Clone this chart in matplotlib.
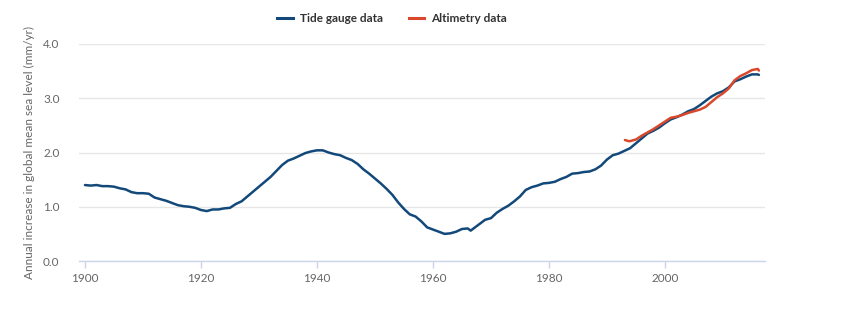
import matplotlib.pyplot as plt
from matplotlib.lines import Line2D

plt.rcParams['font.family'] = ['Lato', 'DejaVu Sans']

# annual increase in global mean sea level (mm/yr)
tide_years = [1900, 1901, 1902, 1903, 1904, 1905, 1906, 1907, 1908, 1909,
              1910, 1911, 1912, 1913, 1914, 1915, 1916, 1917, 1918, 1919,
              1920, 1921, 1922, 1923, 1924, 1925, 1926, 1927, 1928, 1929,
              1930, 1931, 1932, 1933, 1934, 1935, 1936, 1937, 1938, 1939,
              1940, 1941, 1942, 1943, 1944, 1945, 1946, 1947, 1948, 1949,
              1950, 1951, 1952, 1953, 1954, 1955, 1956, 1957, 1958, 1959,
              1960, 1961, 1962, 1963, 1964, 1965, 1966, 1966.5, 1968, 1969,
              1970, 1971, 1972, 1973, 1974, 1975, 1976, 1977, 1978, 1979,
              1980, 1981, 1982, 1983, 1984, 1985, 1986, 1987, 1988, 1989,
              1990, 1991, 1992, 1993, 1994, 1995, 1996, 1997, 1998, 1999,
              2000, 2001, 2002, 2003, 2004, 2005, 2006, 2007, 2008, 2009,
              2010, 2011, 2012, 2013, 2014, 2015, 2016, 2016.2]
tide_rate = [1.40, 1.39, 1.40, 1.38, 1.38, 1.37, 1.34, 1.32, 1.27, 1.25,
             1.25, 1.24, 1.17, 1.14, 1.11, 1.07, 1.03, 1.01, 1.00, 0.98,
             0.94, 0.92, 0.95, 0.95, 0.97, 0.98, 1.05, 1.10, 1.19, 1.28,
             1.37, 1.46, 1.55, 1.66, 1.77, 1.85, 1.89, 1.94, 1.99, 2.02,
             2.04, 2.04, 2.00, 1.97, 1.95, 1.90, 1.86, 1.79, 1.69, 1.61,
             1.52, 1.43, 1.33, 1.22, 1.08, 0.96, 0.86, 0.82, 0.73, 0.62,
             0.58, 0.54, 0.50, 0.51, 0.54, 0.59, 0.60, 0.56, 0.68, 0.76,
             0.79, 0.89, 0.96, 1.02, 1.10, 1.19, 1.31, 1.36, 1.39, 1.43,
             1.44, 1.46, 1.51, 1.55, 1.61, 1.62, 1.64, 1.65, 1.69, 1.76,
             1.87, 1.95, 1.98, 2.03, 2.08, 2.17, 2.26, 2.35, 2.40, 2.46,
             2.54, 2.61, 2.65, 2.70, 2.76, 2.80, 2.87, 2.95, 3.03, 3.09,
             3.13, 3.20, 3.31, 3.35, 3.40, 3.44, 3.44, 3.43]

alt_years = [1993.1, 1993.7, 1994, 1995, 1996, 1997, 1998, 1999, 2000, 2001,
             2002, 2003, 2004, 2005, 2006, 2007, 2008, 2009, 2010, 2011,
             2012, 2013, 2014, 2015, 2016, 2016.2]
alt_rate = [2.23, 2.21, 2.21, 2.24, 2.31, 2.37, 2.43, 2.50, 2.57, 2.64,
            2.66, 2.69, 2.73, 2.76, 2.79, 2.84, 2.93, 3.02, 3.09, 3.18,
            3.33, 3.41, 3.46, 3.52, 3.54, 3.51]

series_names = ['Tide gauge data', 'Altimetry data']
series_colors = ['#12497a', '#d9482b']

fig = plt.figure(figsize=(8.51, 3.22), dpi=100)
ax = fig.add_axes([79 / 851, 1 - 261 / 322, 686 / 851, 217 / 322])

ax.plot(tide_years, tide_rate, color=series_colors[0], lw=1.8,
        solid_capstyle='round', zorder=3)
ax.plot(alt_years, alt_rate, color=series_colors[1], lw=1.8,
        solid_capstyle='round', zorder=4)

ax.set_xlim(1898.97, 2017.25)
ax.set_ylim(0, 4.0)
ax.set_xticks([1900, 1920, 1940, 1960, 1980, 2000])
ax.set_yticks([0, 1, 2, 3, 4])
ax.set_yticklabels(['0.0', '1.0', '2.0', '3.0', '4.0'])

ax.grid(axis='y', color='#e6e6e6', lw=1)
ax.set_axisbelow(True)
for side in ['top', 'right', 'left']:
    ax.spines[side].set_visible(False)
ax.spines['bottom'].set_color('#ccd6eb')
ax.spines['bottom'].set_linewidth(1)
ax.tick_params(axis='x', colors='#ccd6eb', length=5, width=1,
               labelcolor='#666666', labelsize=8.5, pad=4)
ax.tick_params(axis='y', length=0, labelcolor='#666666', labelsize=8.5,
               pad=14)

ax.set_ylabel('Annual increase in global mean sea level (mm/yr)',
              color='#666666', fontsize=8.5, labelpad=6)

handles = [Line2D([], [], color=c, lw=2.2) for c in series_colors]
fig.legend(handles, series_names, loc='center', ncol=2,
           bbox_to_anchor=(392 / 851, 1 - 19 / 322), frameon=False,
           handlelength=1.3, handletextpad=0.6, columnspacing=2.2,
           prop={'size': 8.5, 'weight': 'bold'}, labelcolor='#333333')

fig.savefig('out.png', dpi=100)
